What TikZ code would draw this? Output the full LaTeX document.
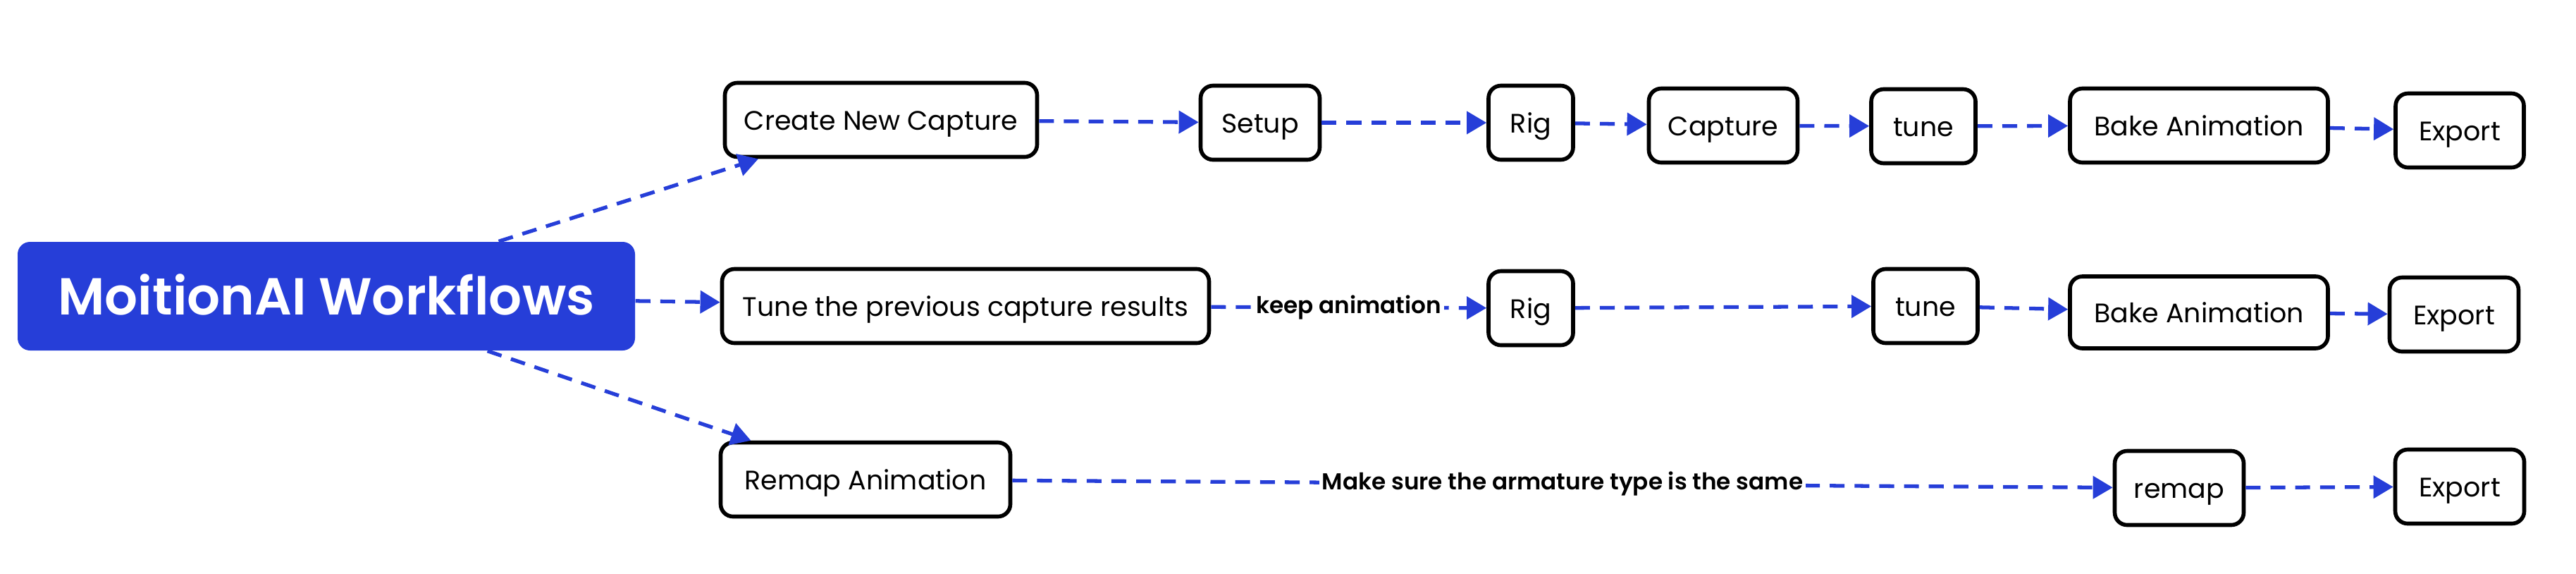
\documentclass[tikz,border=0pt]{standalone}
\usepackage{fontspec}
\setmainfont{Poppins}
\newfontfamily\semibold{Poppins SemiBold}
\usetikzlibrary{arrows.meta}
\definecolor{flowblue}{RGB}{38,62,216}
\tikzset{%
  >={Triangle[length=8pt,width=9pt]}, % default arrow style
  stage/.style={draw=black,line width=1.6pt,rounded corners=5pt,fill=white,%
    minimum height=1.05cm,inner xsep=0pt,text height=9pt,text depth=1pt,%
    font=\fontsize{10.8}{13}\selectfont},%
  root/.style={fill=flowblue,rounded corners=5pt,text=white,%
    minimum width=8.76cm,minimum height=1.54cm,text height=19pt,text depth=4pt,%
    font=\fontsize{21}{25}\semibold},%
  flow/.style={->,flowblue,line width=1.5pt,dash pattern=on 6pt off 4pt},%
  note/.style={fill=white,text=black,inner xsep=1pt,inner ysep=1pt,%
    font=\fontsize{9.3}{12}\semibold}%
}

\begin{document}
\begin{tikzpicture}
  \useasboundingbox (0,0) rectangle (36.55,-8.13);
  % root
  \node[root] (wf) at (4.63,-4.20) {MoitionAI Workflows};
  % row 1: new capture
  \node[stage,minimum width=4.43cm] (create) at (12.50,-1.70) {Create New Capture};
  \node[stage,minimum width=1.69cm] (setup) at (17.88,-1.74) {Setup};
  \node[stage,minimum width=1.20cm] (rigA) at (21.72,-1.74) {Rig};
  \node[stage,minimum width=2.11cm] (capture) at (24.45,-1.78) {Capture};
  \node[stage,minimum width=1.48cm] (tuneA) at (27.29,-1.79) {tune};
  \node[stage,minimum width=3.66cm] (bakeA) at (31.20,-1.78) {Bake Animation};
  \node[stage,minimum width=1.82cm] (exportA) at (34.90,-1.85) {Export};
  % row 2: tune previous results
  \node[stage,minimum width=6.91cm] (prev) at (13.70,-4.34) {Tune the previous capture results};
  \node[stage,minimum width=1.20cm] (rigB) at (21.72,-4.37) {Rig};
  \node[stage,minimum width=1.48cm] (tuneB) at (27.32,-4.34) {tune};
  \node[stage,minimum width=3.66cm,minimum height=1.02cm] (bakeB) at (31.20,-4.43) {Bake Animation};
  \node[stage,minimum width=1.83cm] (exportB) at (34.82,-4.46) {Export};
  % row 3: remap
  \node[stage,minimum width=4.11cm] (remapanim) at (12.28,-6.80) {Remap Animation};
  \node[stage,minimum width=1.83cm] (remap) at (30.92,-6.92) {remap};
  \node[stage,minimum width=1.83cm] (exportC) at (34.90,-6.90) {Export};
  % branches
  \draw[flow] (wf) -- (create);
  \draw[flow] (wf) -- (prev);
  \draw[flow] (wf) -- (remapanim);
  % chains
  \draw[flow] (create) -- (setup);
  \draw[flow] (setup) -- (rigA);
  \draw[flow] (rigA) -- (capture);
  \draw[flow] (capture) -- (tuneA);
  \draw[flow] (tuneA) -- (bakeA);
  \draw[flow] (bakeA) -- (exportA);
  \draw[flow] (prev) -- node[note] {keep animation} (rigB);
  \draw[flow] (rigB) -- (tuneB);
  \draw[flow] (tuneB) -- (bakeB);
  \draw[flow] (bakeB) -- (exportB);
  \draw[flow] (remapanim) -- node[note] {Make sure the armature type is the same} (remap);
  \draw[flow] (remap) -- (exportC);
\end{tikzpicture}
\end{document}
